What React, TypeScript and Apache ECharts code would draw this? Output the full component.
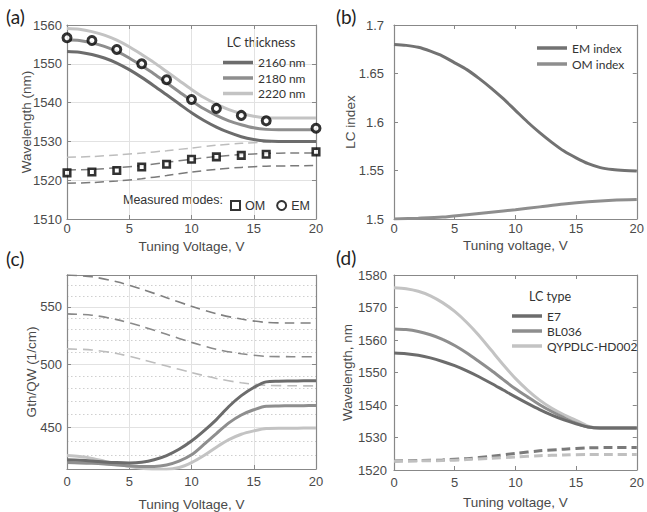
import React, { useEffect, useRef } from "react";
import * as echarts from "echarts";

// ---------- shared x values ----------
const volts = [0, 1, 2, 3, 4, 5, 6, 7, 8, 9, 10, 11, 12, 13, 14, 15, 16, 17, 18, 19, 20];
const voltsEven = [0, 2, 4, 6, 8, 10, 12, 14, 16, 18, 20];
const measuredVolts = [0, 2, 4, 6, 8, 10, 12, 14, 16, 20];

// ---------- (a) wavelength vs voltage, LC thickness ----------
const a2160 = [1553.2, 1553.0, 1552.4, 1551.5, 1550.2, 1548.5, 1546.5, 1544.3, 1542.0, 1539.7, 1537.4, 1535.4, 1533.7, 1532.3, 1531.2, 1530.5, 1530.1, 1530.0, 1530.0, 1530.0, 1530.0];
const a2180 = [1556.2, 1556.0, 1555.4, 1554.5, 1553.2, 1551.5, 1549.5, 1547.4, 1545.1, 1542.8, 1540.5, 1538.4, 1536.7, 1535.3, 1534.3, 1533.5, 1533.1, 1533.0, 1533.0, 1533.0, 1533.0];
const a2220 = [1559.1, 1558.9, 1558.3, 1557.4, 1556.1, 1554.4, 1552.4, 1550.3, 1548.0, 1545.7, 1543.4, 1541.3, 1539.6, 1538.2, 1537.2, 1536.5, 1536.1, 1536.0, 1536.0, 1536.0, 1536.0];
const aOm2160 = [1519.2, 1519.4, 1519.8, 1520.4, 1521.2, 1522.1, 1522.8, 1523.3, 1523.6, 1523.7, 1523.8];
const aOm2180 = [1522.6, 1522.8, 1523.2, 1523.8, 1524.6, 1525.4, 1526.1, 1526.6, 1526.9, 1527.0, 1527.0];
const aOm2220 = [1525.9, 1526.1, 1526.5, 1527.0, 1527.6, 1528.3, 1529.0, 1529.5, 1529.8, 1529.9, 1529.9];
const measuredEM = [1556.7, 1556.0, 1553.7, 1550.0, 1545.9, 1540.8, 1538.5, 1536.7, 1535.3, 1533.4];
const measuredOM = [1521.9, 1522.1, 1522.5, 1523.4, 1524.1, 1525.4, 1526.0, 1526.4, 1526.7, 1527.3];

// ---------- (b) LC index ----------
const emIndex = [1.680, 1.679, 1.677, 1.673, 1.668, 1.661, 1.654, 1.645, 1.635, 1.624, 1.612, 1.600, 1.589, 1.579, 1.570, 1.563, 1.557, 1.553, 1.551, 1.550, 1.5495];
const omIndex = [1.500, 1.5008, 1.502, 1.5045, 1.507, 1.5095, 1.5125, 1.5155, 1.5178, 1.5193, 1.520];

// ---------- (c) Gth/QW (log axis) ----------
const cDark = [426.5, 426.2, 425.7, 425.0, 424.5, 424.3, 424.8, 426.5, 429.5, 434.0, 440.0, 447.5, 456.0, 466.0, 474.5, 481.0, 485.5, 486.0, 486.2, 486.4, 486.5];
const cMed = [424.5, 424.3, 424.0, 423.5, 422.8, 422.2, 421.8, 421.8, 422.8, 425.5, 430.0, 437.5, 445.5, 453.5, 459.5, 463.5, 466.3, 466.5, 466.6, 466.7, 466.8];
const cLight = [429.5, 428.8, 427.5, 425.5, 423.5, 421.8, 420.5, 419.8, 419.8, 421.0, 424.5, 429.5, 435.5, 441.0, 445.0, 447.5, 449.3, 449.5, 449.5, 449.6, 449.6];
const cDashTop = [580.0, 578.3, 573.5, 566.5, 558.5, 550.6, 543.8, 539.0, 536.0, 535.5, 535.5];
const cDashMid = [543.7, 542.5, 538.5, 532.5, 525.5, 518.5, 512.5, 508.8, 506.6, 506.3, 506.2];
const cDashLow = [512.9, 512.0, 509.0, 504.0, 498.5, 493.1, 488.3, 484.8, 482.8, 482.4, 482.3];
const gthMin = 420;
const gthMax = 580;
const gthTicks = [450, 500, 550];
const gthMinorTicks = [430, 440, 460, 470, 480, 490, 510, 520, 530, 540, 560, 570];

// ---------- (d) LC type ----------
const dE7 = [1556.0, 1555.8, 1555.3, 1554.5, 1553.4, 1552.1, 1550.5, 1548.7, 1546.7, 1544.6, 1542.5, 1540.5, 1538.6, 1536.9, 1535.4, 1534.2, 1533.2, 1532.9, 1532.9, 1532.9, 1532.9];
const dBL036 = [1563.4, 1563.2, 1562.6, 1561.6, 1560.2, 1558.3, 1556.0, 1553.4, 1550.7, 1547.8, 1545.0, 1542.5, 1540.1, 1538.0, 1536.1, 1534.4, 1533.2, 1532.9, 1532.9, 1532.9, 1532.9];
const dQY = [1576.1, 1575.8, 1575.0, 1573.6, 1571.5, 1568.8, 1565.4, 1561.4, 1556.9, 1552.4, 1548.2, 1544.6, 1541.5, 1539.0, 1537.0, 1535.3, 1533.5, 1532.9, 1532.9, 1532.9, 1532.9];
const dE7Om = [1522.8, 1522.9, 1523.1, 1523.5, 1524.2, 1525.1, 1525.9, 1526.4, 1526.8, 1526.9, 1526.9];
const dQYOm = [1522.7, 1522.8, 1522.9, 1523.2, 1523.6, 1524.0, 1524.4, 1524.6, 1524.8, 1524.8, 1524.8];

// ---------- style ----------
const AXF = "Liberation Sans, Arial, sans-serif";
const LEGF = "Lato, sans-serif";
const AXC = "#888888";
const TXT = "#4a4a4a";
const DARK = "#6c6c6c";
const MED = "#8e8e8e";
const LIGHT = "#c3c3c3";
const MARK = "#000000";

const lg = (v: number) => Math.log10(v);
const pts = (xs: number[], ys: number[], f = (v: number) => v) => xs.map((x, i) => [x, f(ys[i])]);

const grids = [
  { left: 67, top: 25, width: 249, height: 194 },
  { left: 394, top: 25, width: 248, height: 194 },
  { left: 67, top: 275, width: 249, height: 195 },
  { left: 394, top: 275, width: 248, height: 195 },
];

const xNames = ["Tuning Voltage, V", "Tuning voltage, V", "Tuning Voltage, V", "Tuning voltage, V"];
const xNameGaps = [20, 19, 28, 25];
const xLabelMargins = [3, 3, 6, 6];
const yNames = ["Wavelength (nm)", "LC index", "Gth/QW (1/cm)", "Wavelength, nm"];
const yNameGaps = [34, 37, 29, 40];
const yLabelMargins = [5, 10, 5, 7];

const axisLine = { show: true, onZero: false, lineStyle: { color: AXC, width: 1.2 } };
const tickIn = { show: true, inside: true, length: 4, lineStyle: { color: AXC, width: 1 } };
const gridLine = { show: true, lineStyle: { color: "#e2e2e2", width: 1 } };
const plain = (v: number) => String(v);

function line(name: string, gi: number, data: number[][], color: string, width: number, dashed: boolean, dash?: number[]) {
  return {
    type: "line",
    name,
    xAxisIndex: gi,
    yAxisIndex: gi,
    data,
    symbol: "none",
    showSymbol: false,
    smooth: 0.3,
    silent: true,
    lineStyle: { color, width, type: dashed ? dash || [9, 5] : "solid", cap: "butt" },
    itemStyle: { color },
    z: dashed ? 2 : 3,
  };
}

function buildOption() {
  const yRanges: any[] = [
    { min: 1510, max: 1560, interval: 10 },
    { min: 1.5, max: 1.7, interval: 0.05 },
    { min: lg(gthMin), max: lg(gthMax) },
    { min: 1520, max: 1580, interval: 10 },
  ];
  const gthTickVals = gthTicks.map(lg);

  const xAxis: any[] = [];
  const yAxis: any[] = [];
  for (let i = 0; i < 4; i++) {
    xAxis.push({
      type: "value",
      gridIndex: i,
      min: 0,
      max: 20,
      interval: 5,
      name: xNames[i],
      nameLocation: "middle",
      nameGap: xNameGaps[i],
      nameMoveOverlap: false,
      nameTextStyle: { fontFamily: AXF, fontSize: 13.5, color: TXT },
      axisLine,
      axisTick: tickIn,
      axisLabel: { margin: xLabelMargins[i], fontFamily: AXF, fontSize: 13, color: TXT, formatter: plain },
      splitLine: i === 0 || i === 2 ? gridLine : { show: false },
    });
  }
  for (let i = 0; i < 4; i++) {
    xAxis.push({
      type: "value",
      gridIndex: i,
      position: "top",
      min: 0,
      max: 20,
      interval: 5,
      axisLine,
      axisTick: tickIn,
      axisLabel: { show: false },
      splitLine: { show: false },
    });
  }
  for (let i = 0; i < 4; i++) {
    const base: any = {
      type: "value",
      gridIndex: i,
      ...yRanges[i],
      name: yNames[i],
      nameLocation: "middle",
      nameGap: yNameGaps[i],
      nameMoveOverlap: false,
      nameTextStyle: { fontFamily: AXF, fontSize: 13.5, color: TXT },
      axisLine,
      axisTick: { ...tickIn },
      axisLabel: { margin: yLabelMargins[i], fontFamily: AXF, fontSize: 13, color: TXT, formatter: plain },
      splitLine: i === 0 || i === 2 ? gridLine : { show: false },
    };
    if (i === 2) {
      base.axisTick = { ...tickIn, customValues: gthTickVals };
      base.axisLabel = {
        ...base.axisLabel,
        customValues: gthTickVals,
        formatter: (v: number) => String(Math.round(Math.pow(10, v))),
      };
    }
    yAxis.push(base);
  }
  for (let i = 0; i < 4; i++) {
    const r: any = {
      type: "value",
      gridIndex: i,
      position: "right",
      ...yRanges[i],
      axisLine,
      axisTick: { ...tickIn },
      axisLabel: { show: false },
      splitLine: { show: false },
    };
    if (i === 2) r.axisTick = { ...tickIn, customValues: gthTickVals };
    yAxis.push(r);
  }
  // minor dotted grid for (c)
  yAxis.push({
    type: "value",
    gridIndex: 2,
    position: "left",
    min: lg(gthMin),
    max: lg(gthMax),
    axisLine: { show: false },
    axisTick: { show: false, customValues: gthMinorTicks.map(lg) },
    axisLabel: { show: false, customValues: gthMinorTicks.map(lg) },
    splitLine: { show: true, lineStyle: { color: "#cfcfcf", width: 1, type: [1.5, 2.5] } },
  });

  const series: any[] = [
    // (a)
    line("2160 nm OM", 0, pts(voltsEven, aOm2160), "#7a7a7a", 1.5, true),
    line("2180 nm OM", 0, pts(voltsEven, aOm2180), "#7e7e7e", 1.5, true),
    line("2220 nm OM", 0, pts(voltsEven, aOm2220), "#bdbdbd", 1.5, true),
    line("2160 nm", 0, pts(volts, a2160), DARK, 3, false),
    line("2180 nm", 0, pts(volts, a2180), MED, 3, false),
    line("2220 nm", 0, pts(volts, a2220), LIGHT, 3, false),
    {
      type: "scatter",
      name: "OM",
      xAxisIndex: 0,
      yAxisIndex: 0,
      data: pts(measuredVolts, measuredOM),
      symbol: "rect",
      symbolSize: 6.5,
      itemStyle: { color: "#ffffff", borderColor: MARK, borderWidth: 2.6 },
      z: 6,
      silent: true,
    },
    {
      type: "scatter",
      name: "EM",
      xAxisIndex: 0,
      yAxisIndex: 0,
      data: pts(measuredVolts, measuredEM),
      symbol: "circle",
      symbolSize: 8,
      itemStyle: { color: "#ffffff", borderColor: MARK, borderWidth: 3 },
      z: 6,
      silent: true,
    },
    // (b)
    line("EM index", 1, pts(volts, emIndex), "#727272", 3, false),
    line("OM index", 1, pts(voltsEven, omIndex), "#8e8e8e", 3, false),
    // (c)
    line("c dash top", 2, pts(voltsEven, cDashTop, lg), "#808080", 1.6, true, [10, 6]),
    line("c dash mid", 2, pts(voltsEven, cDashMid, lg), "#8a8a8a", 1.6, true, [10, 6]),
    line("c dash low", 2, pts(voltsEven, cDashLow, lg), "#bdbdbd", 1.6, true, [10, 6]),
    line("c light", 2, pts(volts, cLight, lg), LIGHT, 3, false),
    line("c med", 2, pts(volts, cMed, lg), MED, 3, false),
    line("c dark", 2, pts(volts, cDark, lg), DARK, 3, false),
    // (d)
    line("E7 OM", 3, pts(voltsEven, dE7Om), "#7a7a7a", 3, true, [9, 5]),
    line("QYPDLC-HD002 OM", 3, pts(voltsEven, dQYOm), "#c0c0c0", 3, true, [9, 5]),
    line("QYPDLC-HD002", 3, pts(volts, dQY), LIGHT, 3, false),
    line("BL036", 3, pts(volts, dBL036), MED, 3, false),
    line("E7", 3, pts(volts, dE7), DARK, 3, false),
  ];

  const legText = { fontFamily: LEGF, fontSize: 12, color: "#333333" };
  const legend: any[] = [
    {
      data: ["2160 nm", "2180 nm", "2220 nm"],
      orient: "vertical",
      left: 218,
      top: 51.5,
      itemWidth: 30,
      itemHeight: 3.5,
      itemGap: 3.5,
      icon: "rect",
      textStyle: legText,
      selectedMode: false,
    },
    {
      data: ["OM", "EM"],
      orient: "horizontal",
      left: 225,
      top: 194,
      itemWidth: 9,
      itemHeight: 9,
      itemGap: 11,
      textStyle: { fontFamily: AXF, fontSize: 12.5, color: "#333333" },
      selectedMode: false,
    },
    {
      data: ["EM index", "OM index"],
      orient: "vertical",
      left: 532,
      top: 37,
      itemWidth: 30,
      itemHeight: 3.5,
      itemGap: 4,
      icon: "rect",
      textStyle: legText,
      selectedMode: false,
    },
    {
      data: ["E7", "BL036", "QYPDLC-HD002"],
      orient: "vertical",
      left: 507,
      top: 305,
      itemWidth: 30,
      itemHeight: 3.5,
      itemGap: 3,
      icon: "rect",
      textStyle: legText,
      selectedMode: false,
    },
  ];

  const label = (text: string, x: number, y: number, font: string, align = "left", fill = "#222222") => ({
    type: "text",
    x,
    y,
    silent: true,
    style: { text, font, fill, align, verticalAlign: "middle" },
  });

  const graphic = [
    label("(a)", 6, 16, "19px Lato, sans-serif"),
    label("(b)", 336, 16, "19px Lato, sans-serif"),
    label("(c)", 6, 258, "19px Lato, sans-serif"),
    label("(d)", 336, 257, "19px Lato, sans-serif"),
    label("LC thickness", 261, 42, "12.5px Lato, sans-serif", "center", "#333333"),
    label("LC type", 550, 296, "12.5px Lato, sans-serif", "center", "#333333"),
    label("Measured modes:", 123, 200, "12.5px Liberation Sans, Arial, sans-serif", "left", "#333333"),
  ];

  return {
    animation: false,
    backgroundColor: "#ffffff",
    grid: grids,
    xAxis,
    yAxis,
    series,
    legend,
    graphic,
  };
}

export default function App() {
  const ref = useRef<HTMLDivElement>(null);
  useEffect(() => {
    if (!ref.current) return;
    const chart = echarts.init(ref.current, undefined, { renderer: "svg" });
    chart.setOption(buildOption() as any);
    return () => chart.dispose();
  }, []);
  return (
    <div
      ref={ref}
      style={{ position: "absolute", left: 0, top: 0, width: 647, height: 512, background: "#fff" }}
    />
  );
}
